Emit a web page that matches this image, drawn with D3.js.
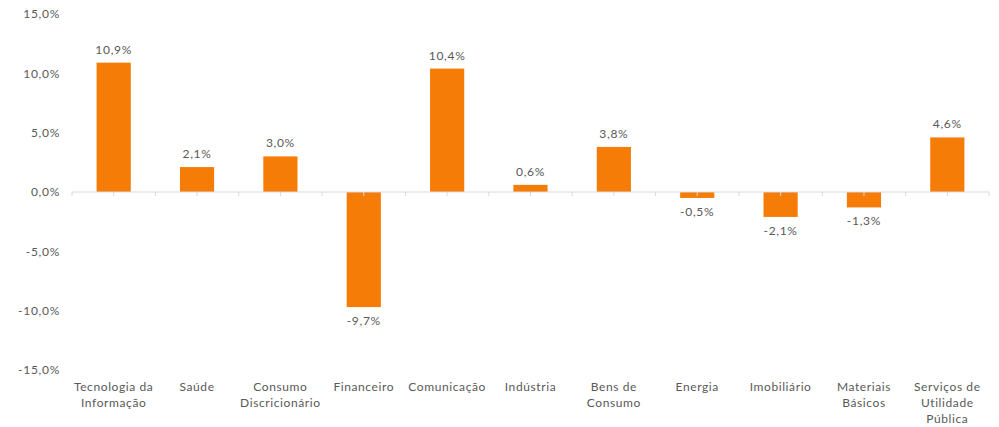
<!DOCTYPE html>
<html><head><meta charset="utf-8">
<script src="https://cdn.jsdelivr.net/npm/d3@7"></script>
<style>body{margin:0;background:#fff;}svg{display:block;font-family:Lato,"Open Sans",sans-serif;}</style>
</head><body><svg id="c" width="999" height="427"></svg>
<script>
const categories = [["Tecnologia da","Informação"],["Saúde"],["Consumo","Discricionário"],["Financeiro"],["Comunicação"],["Indústria"],["Bens de","Consumo"],["Energia"],["Imobiliário"],["Materiais","Básicos"],["Serviços de","Utilidade","Pública"]];
const values = [10.9, 2.1, 3.0, -9.7, 10.4, 0.6, 3.8, -0.5, -2.1, -1.3, 4.6];
const yTicks = [15, 10, 5, 0, -5, -10, -15];

const svg = d3.select("#c");
const fmt = v => v.toFixed(1).replace(".", ",") + "%";
const keys = categories.map((c,i)=>i);
const x = d3.scaleBand().domain(keys).range([72, 989]).paddingInner(0.59).paddingOuter(0.295);
const y = d3.scaleLinear().domain([-15, 15]).range([370, 14]);
const gray = "#595959";

// y labels
svg.append("g").selectAll("text").data(yTicks).join("text")
  .attr("x", 60).attr("y", d => y(d)).attr("dy", "0.35em")
  .attr("text-anchor", "end").attr("font-size", 12).attr("letter-spacing", 0.7).attr("fill", gray)
  .text(fmt);

// bars
svg.append("g").selectAll("rect").data(values).join("rect")
  .attr("x", (d,i) => x(i)).attr("width", x.bandwidth())
  .attr("y", d => y(Math.max(0, d))).attr("height", d => Math.abs(y(d) - y(0)))
  .attr("fill", "#F57C06");

// zero axis
const ax = svg.append("g");
ax.append("line").attr("x1", 72).attr("x2", 989).attr("y1", y(0)).attr("y2", y(0))
  .attr("stroke", "#d9d9d9").attr("stroke-width", 1);
const step = x.step();
const tickXs = d3.range(0, 23).map(k => 72 + k * step / 2);
ax.selectAll("line.t").data(tickXs).join("line").attr("class","t")
  .attr("x1", d => d).attr("x2", d => d).attr("y1", y(0)).attr("y2", y(0) + 4)
  .attr("stroke", "#d9d9d9");

// value labels
svg.append("g").selectAll("text").data(values).join("text")
  .attr("x", (d,i) => x(i) + x.bandwidth()/2)
  .attr("y", d => d >= 0 ? y(d) - 9 : y(d) + 18)
  .attr("text-anchor", "middle").attr("font-size", 12).attr("letter-spacing", 0.7).attr("fill", gray)
  .text(fmt);

// category labels
const cg = svg.append("g").selectAll("text").data(categories).join("text")
  .attr("text-anchor", "middle").attr("font-size", 12).attr("letter-spacing", 0.6).attr("fill", gray);
cg.each(function(lines, i){
  d3.select(this).selectAll("tspan").data(lines).join("tspan")
    .attr("x", x(i) + x.bandwidth()/2).attr("y", (d,j) => 391 + j * 16).text(d => d);
});
</script></body></html>
